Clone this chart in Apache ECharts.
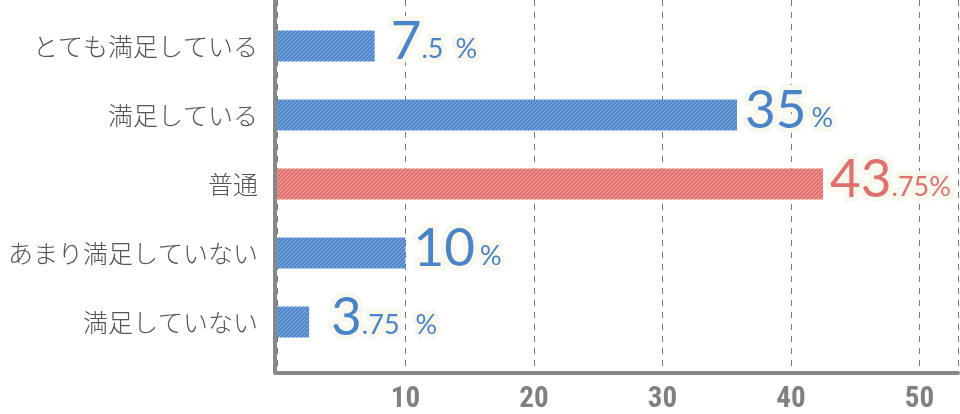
<!DOCTYPE html>
<html><head><meta charset="utf-8">
<script src="https://cdn.jsdelivr.net/npm/echarts@6/dist/echarts.min.js"></script>
<style>html,body{margin:0;padding:0;background:#fff}#c{width:960px;height:414px}</style>
</head><body><div id="c"></div>
<script>
// ---- data ----
const categories = ['とても満足している', '満足している', '普通', 'あまり満足していない', '満足していない'];
const barValues = [7.6, 35.8, 42.5, 10, 2.5];          // bar lengths as drawn
const labelValues = ['7.5', '35', '43.75', '10', '3.75']; // printed values
const highlightIndex = 2;
const xMax = 53;
const xInterval = 10;

// ---- styles ----
const labelDistance = [16, 8, 7, 8, 22];
const pctGap = [12, 5, 0, 5, 16];
const BLUE = '#4a84c8', RED = '#e0706c';

function hatch(base, stripe) {
  const c = document.createElement('canvas');
  c.width = 4; c.height = 4;
  const g = c.getContext('2d');
  g.fillStyle = base; g.fillRect(0, 0, 4, 4);
  g.strokeStyle = stripe; g.lineWidth = 1.2;
  g.beginPath();
  g.moveTo(-1, 5); g.lineTo(5, -1);
  g.moveTo(-1, 1); g.lineTo(1, -1);
  g.moveTo(3, 5); g.lineTo(5, 3);
  g.stroke();
  return c;
}
const bluePat = { image: hatch('#4a80c4', '#7eaae0'), repeat: 'repeat' };
const redPat = { image: hatch('#e06866', '#f3a39e'), repeat: 'repeat' };

const halo = { textBorderColor: '#f8f8ee', textBorderWidth: 10 };
function richFor(color, gap) {
  return {
    i: Object.assign({ fontFamily: 'Lato', fontSize: 53, color: color, verticalAlign: 'bottom', lineHeight: 60 }, halo),
    d: Object.assign({ fontFamily: 'Lato', fontSize: 27, color: color, verticalAlign: 'bottom', lineHeight: 30, padding: [0, 0, 5, 0] }, halo),
    p: Object.assign({ fontFamily: 'Lato', fontSize: 27, color: color, verticalAlign: 'bottom', lineHeight: 30, padding: [0, 0, 5, gap] }, halo)
  };
}

const data = barValues.map((v, i) => {
  const hi = i === highlightIndex;
  const parts = labelValues[i].split('.');
  const txt = '{i|' + parts[0] + '}' + (parts[1] ? '{d|.' + parts[1] + '}' : '') + '{p|%}';
  return {
    value: v,
    itemStyle: { color: hi ? redPat : bluePat },
    label: {
      show: true, position: 'right', distance: labelDistance[i], offset: [0, -8],
      formatter: () => txt,
      rich: richFor(hi ? RED : BLUE, pctGap[i])
    }
  };
});

const chart = echarts.init(document.getElementById('c'));
chart.setOption({
  animation: false,
  grid: [
    { left: 277, right: 2, top: 0, bottom: 36 },
    { left: 277, right: 2, top: 11.5, bottom: 57.5 }
  ],
  xAxis: [
    {
      gridIndex: 0, type: 'value', min: 0, max: xMax, interval: xInterval,
      axisLine: { show: true, onZero: false, lineStyle: { color: '#888', width: 4 } },
      axisTick: { show: false },
      splitLine: { show: true, lineStyle: { color: '#777', width: 1, type: [6, 6] } },
      axisLabel: {
        showMinLabel: false, showMaxLabel: false, margin: 12,
        fontFamily: '"Roboto Condensed", "DejaVu Sans Condensed", sans-serif', fontWeight: 'bold', fontSize: 29, color: '#808080'
      }
    },
    {
      gridIndex: 1, type: 'value', min: 0, max: xMax, interval: xInterval, show: false
    }
  ],
  yAxis: [
    {
      gridIndex: 0, type: 'value', min: 0, max: 1, offset: 2,
      axisLine: { show: true, onZero: false, lineStyle: { color: '#888', width: 4 } },
      axisTick: { show: false }, axisLabel: { show: false }, splitLine: { show: false }
    },
    {
      gridIndex: 1, type: 'category', data: categories, inverse: true,
      axisLine: { show: false }, axisTick: { show: false }, splitLine: { show: false },
      axisLabel: {
        margin: 19, fontFamily: 'Noto Sans CJK JP', fontWeight: 300, fontSize: 25, color: '#555'
      }
    }
  ],
  series: [{
    type: 'bar', xAxisIndex: 1, yAxisIndex: 1, barWidth: 31,
    data: data
  }]
});
</script>
</body></html>
